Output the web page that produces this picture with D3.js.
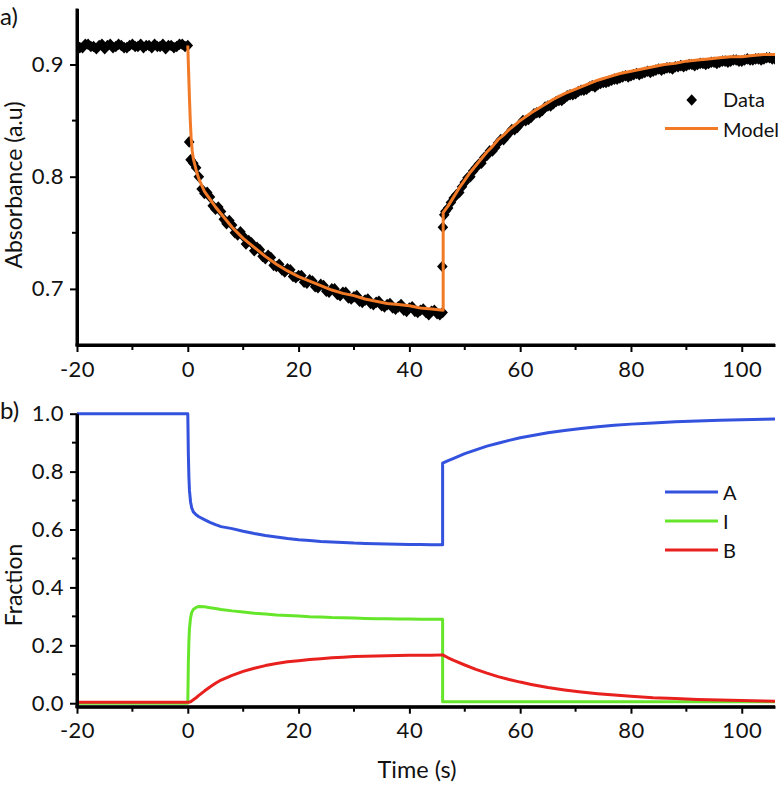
<!DOCTYPE html>
<html><head><meta charset="utf-8">
<script src="https://cdn.jsdelivr.net/npm/d3@7"></script>
<style>
html,body{margin:0;padding:0;background:#fff;}
svg{display:block;}
text{font-family:Lato,"Open Sans",sans-serif;fill:#111;}
</style></head>
<body>
<svg id="chart" width="781" height="785"></svg>
<script>
// ---------- Panel a) : measured absorbance ----------
// samples on whole seconds, t = -20 ... 106
const dataStart = -20;
const dataStep = 1;
const dataAbs = [
 0.917,0.915,0.918,0.916,0.917,0.914,0.918,0.916,0.917,0.915,
 0.918,0.916,0.915,0.917,0.918,0.916,0.914,0.917,0.916,0.918,
 0.917,
 0.812,0.800,0.785,0.782,0.771,0.769,0.758,0.757,0.748,0.747,
 0.743,0.734,0.735,0.727,0.728,0.720,0.717,0.718,0.711,0.712,
 0.706,0.708,0.702,0.704,0.698,0.700,0.695,0.697,0.692,0.693,
 0.689,0.690,0.687,0.688,0.685,0.686,0.683,0.684,0.681,0.683,
 0.680,0.681,0.679,0.680,0.678,0.679,
 0.772,0.781,0.786,0.795,0.800,0.808,0.812,0.819,0.823,0.830,
 0.833,0.839,0.842,0.847,0.850,0.853,0.857,0.859,0.863,0.865,
 0.868,0.870,0.873,0.874,0.877,0.878,0.881,0.882,0.884,0.885,
 0.887,0.888,0.890,0.890,0.892,0.892,0.894,0.894,0.896,0.896,
 0.897,0.898,0.899,0.899,0.900,0.900,0.901,0.901,0.902,0.902,
 0.903,0.903,0.904,0.903,0.905,0.904,0.905,0.905,0.906,0.905
];
// samples on half seconds, t = -19.5 ... 105.5
const dataMidStart = -19.5;
const dataAbsMid = [
 0.915,0.918,0.916,0.914,0.918,0.917,0.915,0.918,0.915,0.917,
 0.916,0.918,0.917,0.915,0.916,0.918,0.917,0.915,0.918,0.916,
 0.815,
 0.808,0.789,0.786,0.774,0.773,0.762,0.761,0.750,0.751,0.740,
 0.741,0.737,0.729,0.730,0.721,0.722,0.715,0.717,0.710,0.712,
 0.705,0.707,0.701,0.703,0.697,0.700,0.694,0.697,0.691,0.694,
 0.688,0.691,0.686,0.689,0.684,0.687,0.682,0.686,0.680,0.684,
 0.679,0.682,0.677,0.681,0.677,
 0.769,0.777,0.784,0.791,0.799,0.805,0.811,0.817,0.823,0.826,
 0.833,0.836,0.842,0.844,0.850,0.851,0.856,0.857,0.862,0.863,
 0.867,0.868,0.872,0.873,0.876,0.877,0.880,0.880,0.883,0.884,
 0.886,0.887,0.889,0.889,0.891,0.891,0.893,0.893,0.895,0.895,
 0.897,0.896,0.898,0.898,0.900,0.899,0.901,0.900,0.902,0.901,
 0.903,0.902,0.904,0.903,0.904,0.904,0.905,0.904,0.906,0.905
];
// isolated samples caught during the two fast transitions
const jumpTime = [0.25, 45.95, 46.05, 46.3];
const jumpAbs  = [0.831, 0.720, 0.755, 0.766];

// model curve
const modelTime = [0,0.15,0.3,0.45,0.6,0.8,1,1.5,2,3,4,5,6,7,8,10,12,14,16,18,20,22,24,26,28,30,32,34,36,38,40,42,44,46.1,
 46.1,47,48,49,50,51,52,53,54,55,56,57,58,59,60,62,64,66,68,70,72,74,76,78,80,82,84,86,88,90,92,94,96,98,100,102,104,106];
const modelAbs = [0.917,0.893,0.870,0.850,0.835,0.823,0.816,0.806,0.798,0.787,0.780,0.773,0.767,0.761,0.755,0.745,0.737,0.729,0.722,0.716,0.711,0.707,0.703,0.699,0.696,0.694,0.691,0.689,0.687,0.686,0.685,0.683,0.682,0.681,
 0.768,0.774,0.782,0.790,0.797,0.804,0.810,0.816,0.822,0.827,0.833,0.837,0.842,0.846,0.850,0.857,0.863,0.869,0.874,0.878,0.882,0.886,0.889,0.892,0.894,0.896,0.898,0.900,0.901,0.903,0.904,0.905,0.906,0.907,0.907,0.908,0.909,0.909];

// ---------- Panel b) : species fractions ----------
const fracTime = [-20,0,0.1,0.2,0.3,0.5,0.7,1,1.5,2,3,4,5,6,8,10,12,14,16,18,20,22,24,26,28,30,32,34,36,38,40,42,44,46,
 46,47,48,50,52,54,56,58,60,62,65,68,71,74,77,80,84,88,92,96,100,104,106];
const fracA = [1.0,1.0,0.86,0.78,0.735,0.695,0.675,0.661,0.651,0.644,0.634,0.625,0.617,0.610,0.603,0.594,0.586,0.579,0.574,0.569,0.565,0.562,0.559,0.557,0.555,0.553,0.552,0.551,0.550,0.549,0.548,0.548,0.547,0.547,
 0.829,0.838,0.846,0.862,0.875,0.888,0.898,0.908,0.917,0.924,0.934,0.942,0.949,0.955,0.960,0.964,0.968,0.972,0.975,0.977,0.979,0.981,0.982];
const fracI = [0.0,0.0,0.14,0.215,0.258,0.295,0.313,0.324,0.331,0.334,0.333,0.330,0.327,0.324,0.319,0.315,0.311,0.308,0.305,0.303,0.301,0.299,0.298,0.296,0.295,0.294,0.293,0.292,0.292,0.291,0.291,0.290,0.290,0.290,
 0.005,0.005,0.005,0.005,0.005,0.005,0.005,0.005,0.005,0.005,0.005,0.005,0.005,0.005,0.005,0.005,0.005,0.005,0.005,0.005,0.005,0.005,0.005];
const fracB = [0.003,0.003,0.003,0.004,0.004,0.005,0.008,0.012,0.019,0.027,0.042,0.056,0.069,0.080,0.096,0.110,0.121,0.130,0.137,0.143,0.147,0.151,0.154,0.157,0.159,0.161,0.162,0.163,0.164,0.165,0.166,0.166,0.166,0.167,
 0.167,0.157,0.148,0.132,0.117,0.104,0.092,0.082,0.073,0.065,0.054,0.046,0.039,0.033,0.028,0.024,0.019,0.016,0.013,0.011,0.009,0.008,0.007];

// axes & labels
const xTicks = [-20,0,20,40,60,80,100];
const xMinor = [-10,10,30,50,70,90];
const yTicksA = [0.7,0.8,0.9];
const yMinorA = [0.75,0.85];
const yTicksB = [0.0,0.2,0.4,0.6,0.8,1.0];
const yMinorB = [0.1,0.3,0.5,0.7,0.9];
const seriesNames = ["A","I","B"];
const seriesColors = ["#3352DD","#66E62A","#E8201E"];
const dataColor = "#000000";
const modelColor = "#F27A26";

// ---------- drawing ----------
const svg = d3.select("#chart");
const X0 = 77, X1 = 775;
const x = d3.scaleLinear().domain([-20,106]).range([X0,X1]);
const yA = d3.scaleLinear().domain([0.65,0.95]).range([345,8.4]);
const yB = d3.scaleLinear().domain([-0.012,1.0]).range([706.7,413.7]);

svg.append("defs").append("clipPath").attr("id","clipA")
  .append("rect").attr("x",X0+1.5).attr("y",0).attr("width",X1-X0-1.5).attr("height",345);

function drawAxes(y, yTicks, yMinor, baseY, topY){
  const gy = svg.append("g").attr("transform",`translate(${X0},0)`);
  gy.call(d3.axisLeft(y).tickValues(yTicks).tickFormat(d3.format(".1f")).tickSize(7).tickPadding(6).tickSizeOuter(0));
  gy.append("g").selectAll("line").data(yMinor).join("line")
    .attr("x1",0).attr("x2",-5).attr("y1",d=>y(d)).attr("y2",d=>y(d)).attr("stroke","#000").attr("stroke-width",2);
  const gx = svg.append("g").attr("transform",`translate(0,${baseY})`);
  gx.call(d3.axisBottom(x).tickValues(xTicks).tickFormat(d=>String(d)).tickSize(7).tickPadding(9).tickSizeOuter(0));
  gx.append("g").selectAll("line").data(xMinor).join("line")
    .attr("y1",0).attr("y2",5).attr("x1",d=>x(d)).attr("x2",d=>x(d)).attr("stroke","#000").attr("stroke-width",2);
  [gx,gy].forEach(g=>{
    g.select(".domain").attr("stroke","#000").attr("stroke-width",3);
    g.selectAll(".tick line").attr("stroke","#000").attr("stroke-width",2);
    g.selectAll(".tick text").style("font-family","Lato, sans-serif").style("font-size","22px").style("letter-spacing","0.5px").attr("fill","#111");
  });
  svg.append("line").attr("x1",X0).attr("x2",X0).attr("y1",topY).attr("y2",baseY+1.5).attr("stroke","#000").attr("stroke-width",3);
  svg.append("line").attr("x1",X0-1.5).attr("x2",X1).attr("y1",baseY).attr("y2",baseY).attr("stroke","#000").attr("stroke-width",3);
}

// ---- panel a ----
const dataPts = dataAbs.map((v,i)=>({t:dataStart+i*dataStep, v}))
  .concat(dataAbsMid.map((v,i)=>({t:dataMidStart+i*dataStep, v})))
  .concat(jumpTime.map((t,i)=>({t, v:jumpAbs[i]})));
const diamond = "M0,-5.8L5.3,0L0,5.8L-5.3,0Z";
svg.append("g").attr("clip-path","url(#clipA)").selectAll("path").data(dataPts).join("path")
  .attr("d",diamond).attr("transform",d=>`translate(${x(d.t)},${yA(d.v)})`).attr("fill",dataColor);
const lineA = d3.line().x((d,i)=>x(modelTime[i])).y(d=>yA(d));
svg.append("path").attr("d",lineA(modelAbs)).attr("fill","none").attr("stroke",modelColor).attr("stroke-width",3).attr("stroke-linejoin","round");
drawAxes(yA, yTicksA, yMinorA, 345, 8.4);

// legend a
svg.append("path").attr("d",diamond).attr("transform","translate(691.7,100)").attr("fill",dataColor);
svg.append("text").attr("x",723).attr("y",107).style("font-size","20px").text("Data");
svg.append("line").attr("x1",665).attr("x2",718).attr("y1",128.5).attr("y2",128.5).attr("stroke",modelColor).attr("stroke-width",3);
svg.append("text").attr("x",723).attr("y",136.5).style("font-size","20px").text("Model");

// ---- panel b ----
const fracSeries = [fracA, fracI, fracB];
const lineB = d3.line().x((d,i)=>x(fracTime[i])).y(d=>yB(d));
fracSeries.forEach((s,k)=>{
  svg.append("path").attr("d",lineB(s)).attr("fill","none").attr("stroke",seriesColors[k]).attr("stroke-width",3).attr("stroke-linejoin","round");
});
drawAxes(yB, yTicksB, yMinorB, 706.7, 413.7);

// legend b
const legY = [492, 521, 550];
seriesNames.forEach((n,k)=>{
  svg.append("line").attr("x1",665).attr("x2",718).attr("y1",legY[k]).attr("y2",legY[k]).attr("stroke",seriesColors[k]).attr("stroke-width",3);
  svg.append("text").attr("x",723).attr("y",legY[k]+8).style("font-size","20px").text(n);
});

// titles
svg.append("text").attr("x",0).attr("y",25).style("font-size","24px").text("a)");
svg.append("text").attr("x",0).attr("y",419).style("font-size","24px").text("b)");
svg.append("text").attr("transform","translate(22,185) rotate(-90)").attr("text-anchor","middle").style("font-size","23px").text("Absorbance (a.u)");
svg.append("text").attr("transform","translate(22,585) rotate(-90)").attr("text-anchor","middle").style("font-size","23px").text("Fraction");
svg.append("text").attr("x",417).attr("y",778).attr("text-anchor","middle").style("font-size","23.5px").text("Time (s)");
</script>
</body></html>
